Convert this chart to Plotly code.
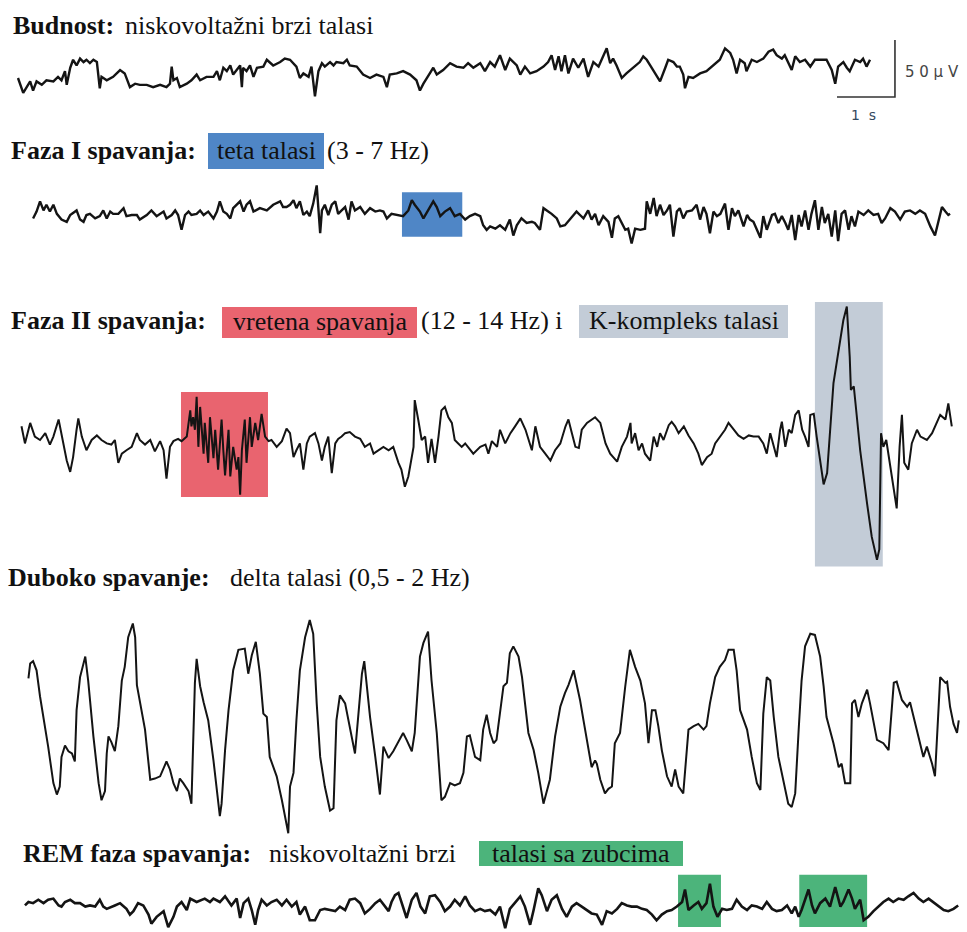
import plotly.graph_objects as go

# ---------------- DATA (time in s, amplitude in µV) ----------------
wake_eeg = [
    (0.00, 0), (0.09, -13), (0.21, -3), (0.26, -11), (0.32, -3), (0.41, -6), (0.49, -2), (0.61, -3),
    (0.69, 1), (0.75, -2), (0.81, 6), (0.84, -6), (0.90, 9), (0.95, 16), (1.01, 11), (1.07, 17),
    (1.13, 14), (1.18, 16), (1.24, 13), (1.30, 16), (1.36, 14), (1.41, -9), (1.44, 1), (1.53, -2),
    (1.64, 1), (1.76, 7), (1.84, 4), (1.93, -8), (2.02, -5), (2.10, -6), (2.22, -6), (2.33, -8),
    (2.45, -6), (2.56, -8), (2.62, -5), (2.65, 10), (2.68, -2), (2.74, 0), (2.79, -8), (2.91, -5),
    (2.99, -2), (3.08, 3), (3.14, -2), (3.25, 1), (3.37, 1), (3.43, 6), (3.48, -2), (3.54, 9),
    (3.60, 6), (3.66, 11), (3.71, 3), (3.77, 7), (3.83, 11), (3.86, -8), (3.88, 9), (3.94, 6),
    (4.00, 11), (4.06, 1), (4.12, 9), (4.23, 10), (4.29, 16), (4.40, 11), (4.52, 14), (4.60, 17),
    (4.69, 16), (4.80, 10), (4.86, 0), (4.92, 4), (5.01, 1), (5.06, 10), (5.12, -16), (5.18, 6),
    (5.24, 13), (5.29, 10), (5.38, 14), (5.44, 11), (5.49, 14), (5.61, 13), (5.67, 16), (5.72, 11),
    (5.84, 10), (5.95, 3), (6.07, 0), (6.18, 3), (6.30, 1), (6.36, -8), (6.41, 3), (6.53, 4),
    (6.64, 6), (6.76, 3), (6.87, -2), (6.93, -11), (6.99, -5), (7.10, 4), (7.16, 9), (7.22, 3),
    (7.33, 7), (7.45, 13), (7.56, 10), (7.68, 9), (7.76, 13), (7.85, 9),
    (7.97, 13), (8.05, 6), (8.14, 14), (8.22, 10), (8.31, 20), (8.40, 7), (8.48, 17), (8.60, 11),
    (8.66, 3), (8.74, 10), (8.83, 4), (8.94, 6), (9.06, 10), (9.14, 14), (9.20, 20), (9.26, 7),
    (9.32, 19), (9.37, 6), (9.43, 20), (9.49, 4), (9.57, 17), (9.66, 9), (9.75, 17), (9.83, 1),
    (9.92, 14), (10.01, 10), (10.09, 20), (10.15, 26), (10.21, 13), (10.26, 17), (10.32, 11),
    (10.41, 0), (10.49, 4), (10.61, 9), (10.72, 14), (10.78, 19), (10.84, 16), (10.90, 11),
    (10.95, 7), (11.01, 1), (11.07, -3), (11.16, 9), (11.21, 16), (11.30, 14), (11.36, 10),
    (11.41, 10), (11.47, 3), (11.50, -9), (11.56, 1), (11.64, 0), (11.76, 4), (11.87, 6),
    (11.99, 11), (12.10, 16), (12.19, 26), (12.28, 22), (12.33, 16), (12.39, 4), (12.45, 16),
    (12.53, 13), (12.56, 6), (12.65, 16), (12.74, 14), (12.85, 17), (12.94, 23), (13.02, 25),
    (13.08, 20), (13.17, 17), (13.22, 20), (13.28, 14), (13.34, 7), (13.40, 19), (13.48, 14),
    (13.57, 16), (13.66, 10), (13.74, 16), (13.83, 16), (13.94, 16), (14.03, 7), (14.09, -5),
    (14.14, 10), (14.23, 14), (14.29, 9), (14.34, 6), (14.43, 16), (14.52, 14), (14.57, 17),
    (14.63, 10), (14.69, 16),
]

stage1_eeg = [
    (0.26, -3), (0.32, 3), (0.38, 12), (0.44, 4), (0.49, 9), (0.55, 3), (0.61, 9), (0.67, 1),
    (0.75, -4), (0.84, -6), (0.90, 0), (1.01, 4), (1.07, -4), (1.13, -6), (1.18, 0), (1.24, 1),
    (1.33, -3), (1.41, -1), (1.47, 4), (1.53, -3), (1.59, 3), (1.64, 1), (1.73, 1), (1.82, 6),
    (1.87, -1), (1.96, 0), (2.05, 0), (2.10, -4), (2.22, 0), (2.30, 4), (2.39, -1), (2.45, 1),
    (2.51, 3), (2.56, -3), (2.65, 0), (2.71, 4), (2.76, 0), (2.82, -13), (2.88, 0), (2.94, 3),
    (2.99, 0), (3.08, 1), (3.14, 4), (3.20, 0), (3.28, 3), (3.37, -3), (3.43, 3), (3.48, 12),
    (3.54, 3), (3.60, 1), (3.66, -3), (3.71, 6), (3.77, 9), (3.83, 12), (3.89, 3), (3.94, 9),
    (4.00, 12), (4.06, 3), (4.17, 6), (4.29, 4), (4.40, 9), (4.52, 12), (4.57, 7), (4.63, 7),
    (4.69, 9), (4.75, 13), (4.80, 6), (4.86, 12), (4.92, 0), (4.98, 3), (5.03, -1), (5.09, 10),
    (5.15, 26), (5.18, 4), (5.21, -16), (5.24, 4), (5.29, 9), (5.35, 0), (5.41, 9), (5.47, 12),
    (5.52, 1), (5.58, 4), (5.64, 7), (5.70, -4), (5.75, 12), (5.81, 4), (5.90, 7), (5.98, 1),
    (6.07, 6), (6.16, 3), (6.24, 4), (6.30, 3), (6.36, -3), (6.44, 1), (6.56, 0), (6.64, -1),
    (6.73, 4), (6.79, 13), (6.84, 9), (6.93, 3), (6.99, -3), (7.07, 4), (7.16, 12), (7.22, 7),
    (7.28, -1), (7.36, 3), (7.45, 6), (7.53, -1), (7.62, 1), (7.71, -4), (7.79, -1), (7.88, 1),
    (7.97, -1), (8.02, -9), (8.08, -13), (8.14, -10), (8.23, -12), (8.31, -9), (8.40, -13),
    (8.48, -4), (8.54, -18), (8.60, -9), (8.68, -3), (8.77, -7), (8.86, -6), (8.91, -7),
    (9.00, -13), (9.06, 6), (9.12, 4), (9.20, 1), (9.29, -3), (9.35, -10), (9.43, -9), (9.52, -4),
    (9.63, 3), (9.69, 0), (9.75, -3), (9.83, 4), (9.89, -4), (9.95, 1), (10.01, -9), (10.09, -1),
    (10.18, -6), (10.24, -20), (10.29, -3), (10.35, -1), (10.41, -7), (10.47, -13), (10.52, -12),
    (10.58, -25), (10.64, -12), (10.73, -13), (10.81, -12), (10.84, 12), (10.90, 1), (10.96, 15),
    (11.01, -1), (11.07, 9), (11.13, 0), (11.19, 4), (11.24, 9), (11.30, -19), (11.36, 3),
    (11.41, 6), (11.47, -3), (11.53, 3), (11.62, 4), (11.70, 9), (11.76, -4), (11.82, 7),
    (11.87, 1), (11.93, -16), (11.99, 3), (12.05, -1), (12.11, 1), (12.19, 10), (12.25, -13),
    (12.31, 6), (12.36, -1), (12.42, 4), (12.51, -10), (12.57, 0), (12.62, -4), (12.68, -6),
    (12.74, -13), (12.80, -20), (12.85, -1), (12.91, -13), (13.00, 0), (13.05, 1), (13.11, -7),
    (13.17, -1), (13.23, -7), (13.28, -13), (13.34, 0), (13.40, -22), (13.46, 0), (13.51, -10),
    (13.57, 4), (13.63, -13), (13.68, 1), (13.74, 13), (13.80, -13), (13.86, 7), (13.91, -7),
    (13.97, 1), (14.03, -19), (14.09, 4), (14.14, -23), (14.20, 1), (14.26, 4), (14.32, -13),
    (14.37, -1), (14.43, -10), (14.49, 3), (14.58, 0), (14.66, 4), (14.75, 0), (14.83, 1),
    (14.89, -7), (14.95, -3), (15.04, 6), (15.12, 3), (15.21, -4), (15.29, 3), (15.38, 4),
    (15.47, 1), (15.55, 4), (15.64, 1), (15.73, -10), (15.81, -18), (15.87, -6), (15.93, 7),
    (15.99, 3), (16.04, 0), (16.07, 1),
]

stage2_eeg = [
    (0.06, 12), (0.12, -3), (0.21, 15), (0.29, 3), (0.38, 0), (0.47, 6), (0.55, -4), (0.61, 3),
    (0.70, 18), (0.75, 6), (0.84, -18), (0.90, -28), (0.95, -15), (1.01, 9), (1.04, 19), (1.10, 3),
    (1.18, -9), (1.27, 0), (1.36, 4), (1.44, 0), (1.53, -3), (1.61, -4), (1.67, 0), (1.73, -20),
    (1.79, -12), (1.87, -9), (1.96, -6), (2.05, 6), (2.10, 0), (2.19, -4), (2.28, 0), (2.36, -10),
    (2.45, -1), (2.51, -9), (2.56, -34), (2.62, -6), (2.68, -1), (2.76, 1), (2.82, -1), (2.91, 3),
    (2.97, 26), (2.99, 12), (3.02, 20), (3.05, 9), (3.08, 38), (3.11, -6), (3.14, 29), (3.20, -12),
    (3.22, 15), (3.28, -20), (3.31, 20), (3.37, -16), (3.40, 9), (3.45, -26), (3.51, 18), (3.54, -9),
    (3.57, -31), (3.63, 9), (3.66, -32), (3.71, -6), (3.77, -26), (3.80, -15), (3.83, -48),
    (3.86, -9), (3.91, 18), (3.94, -20), (4.00, 20), (4.03, -6), (4.09, 15), (4.14, 0), (4.20, 23),
    (4.26, 3), (4.32, -1), (4.37, 0), (4.46, -6), (4.55, -1), (4.63, 10), (4.69, 6), (4.75, -15),
    (4.80, -9), (4.86, -3), (4.92, -26), (4.98, -3), (5.03, 3), (5.12, 6), (5.18, -3), (5.24, -18),
    (5.29, -6), (5.35, 3), (5.41, -29), (5.47, -3), (5.52, 1), (5.58, 3), (5.64, 6), (5.72, 7),
    (5.81, 3), (5.90, 1), (5.98, -6), (6.07, -3), (6.13, -12), (6.21, -9), (6.30, -6), (6.39, -9),
    (6.47, -6), (6.56, -20), (6.61, -26), (6.67, -41), (6.73, -32), (6.82, -6), (6.84, 35),
    (6.90, 18), (6.96, 0), (7.02, 3), (7.07, -20), (7.13, 1), (7.19, -20), (7.25, 3), (7.30, 26),
    (7.36, 29), (7.42, 20), (7.48, 15), (7.53, 0), (7.59, -3), (7.65, -6), (7.71, -3), (7.76, -6),
    (7.85, -12), (7.97, -6),
    (8.06, -4), (8.11, -12), (8.17, -1), (8.26, -6), (8.31, 9), (8.40, -3), (8.49, 6), (8.57, 12),
    (8.66, 19), (8.75, 9), (8.80, 1), (8.86, -9), (8.92, 12), (9.00, -6), (9.09, -12), (9.18, -18),
    (9.26, -9), (9.35, -3), (9.44, 12), (9.49, 18), (9.55, 6), (9.61, -6), (9.67, -7), (9.72, 9),
    (9.81, 15), (9.95, 20), (10.04, 15), (10.13, -3), (10.21, -12), (10.33, -19), (10.41, -6),
    (10.50, 3), (10.56, 15), (10.58, -3), (10.64, 6), (10.70, -9), (10.76, -3), (10.81, -12),
    (10.90, -18), (10.96, 3), (11.02, -6), (11.07, 6), (11.13, 0), (11.22, 13), (11.27, 16),
    (11.33, 12), (11.39, 6), (11.48, 12), (11.56, 4), (11.65, -3), (11.73, -12), (11.79, -22),
    (11.88, -15), (11.96, -12), (12.02, -3), (12.11, 3), (12.19, 9), (12.25, 15), (12.34, 9),
    (12.42, 4), (12.51, 1), (12.60, 4), (12.68, 3), (12.77, 3), (12.85, -3), (12.91, -12),
    (12.97, 6), (13.03, -6), (13.08, -15), (13.14, 9), (13.17, 16), (13.23, -6), (13.29, 9),
    (13.34, 6), (13.40, 22), (13.46, 26), (13.52, 9), (13.57, 3), (13.63, -6), (13.66, 22),
    (13.72, 23), (13.77, 3), (13.83, -20), (13.89, -39), (13.95, -29), (14.00, 9), (14.06, 50),
    (14.15, 79), (14.23, 105), (14.29, 117), (14.34, 73), (14.36, 44), (14.41, 47), (14.44, 32),
    (14.52, -9), (14.64, -56), (14.72, -85), (14.81, -105), (14.85, -96), (14.88, 6), (14.92, -6),
    (14.97, 0), (15.03, -20), (15.08, -41), (15.15, -60), (15.20, -6), (15.24, 22), (15.28, -20),
    (15.35, -26), (15.41, -3), (15.50, 9), (15.56, 3), (15.67, 0), (15.76, 6), (15.84, 15),
    (15.90, 22), (15.99, 18), (16.04, 32), (16.10, 12),
]

deep_eeg = [
    (0.18, 41), (0.21, 54), (0.26, 56), (0.32, 48), (0.38, 25), (0.44, 7), (0.52, -19), (0.61, -51),
    (0.67, -61), (0.72, -54), (0.75, -28), (0.81, -18), (0.87, -23), (0.93, -25), (0.98, -32),
    (1.01, 13), (1.07, 42), (1.16, 60), (1.21, 39), (1.30, -10), (1.39, -51), (1.44, -66),
    (1.50, -58), (1.53, -25), (1.56, -10), (1.61, -15), (1.67, -23), (1.73, -1), (1.79, 39),
    (1.84, 51), (1.90, 77), (1.98, 89), (2.02, 77), (2.05, 35), (2.10, 22), (2.19, -4), (2.28, -48),
    (2.36, -47), (2.45, -45), (2.51, -37), (2.56, -32), (2.62, -39), (2.68, -51), (2.74, -58),
    (2.79, -47), (2.85, -51), (2.94, -58), (2.99, -69), (3.02, -22), (3.05, 37), (3.08, 58),
    (3.14, 34), (3.20, 20), (3.28, 4), (3.37, -31), (3.43, -57), (3.48, -80), (3.51, -69),
    (3.57, -22), (3.63, 13), (3.71, 48), (3.80, 66), (3.91, 67), (3.97, 45), (4.03, 61), (4.10, 73),
    (4.17, 45), (4.23, 10), (4.29, 7), (4.34, -28), (4.46, -45), (4.55, -66), (4.60, -80),
    (4.66, -95), (4.69, -54), (4.75, -42), (4.80, 4), (4.86, 48), (4.95, 77), (5.03, 92), (5.09, 80),
    (5.15, 19), (5.21, -28), (5.29, -54), (5.38, -75), (5.44, -73), (5.49, 4), (5.55, 26),
    (5.64, 19), (5.72, -3), (5.81, -25), (5.87, 10), (5.93, 45), (5.97, 56), (6.01, 37), (6.07, 7),
    (6.16, -28), (6.24, -61), (6.30, -19), (6.39, -29), (6.47, -23), (6.56, -15), (6.64, -7),
    (6.70, -13), (6.79, -23), (6.84, -7), (6.93, 60), (6.99, 72), (7.07, 82), (7.13, 39),
    (7.22, -7), (7.30, -66), (7.36, -63), (7.45, -51), (7.53, -53), (7.62, -51), (7.68, -42),
    (7.74, -10), (7.79, -9), (7.88, -28), (7.97, -31),
    (8.02, -4), (8.08, 9), (8.14, -7), (8.20, -16), (8.25, -13), (8.31, 13), (8.37, 34), (8.43, 37),
    (8.48, 63), (8.54, 69), (8.63, 60), (8.69, 42), (8.74, 19), (8.80, -7), (8.89, -22), (8.97, -42),
    (9.06, -69), (9.12, -57), (9.17, -48), (9.26, -10), (9.35, 16), (9.43, 28), (9.49, 35),
    (9.58, 48), (9.63, 37), (9.69, 22), (9.75, 4), (9.81, -13), (9.89, -37), (9.95, -31),
    (9.98, -34), (10.04, -48), (10.12, -60), (10.18, -56), (10.24, -54), (10.29, -16), (10.38, -7),
    (10.47, 34), (10.55, 66), (10.64, 51), (10.73, 39), (10.81, 19), (10.87, -16), (10.93, 13),
    (10.99, 13), (11.04, -1), (11.10, -22), (11.19, -45), (11.27, -54), (11.33, -39), (11.39, -54),
    (11.47, -60), (11.56, -4), (11.65, -1), (11.73, 1), (11.82, -4), (11.87, -1), (11.93, 19),
    (12.02, 42), (12.10, 51), (12.19, 57), (12.25, 66), (12.34, 66), (12.39, 48), (12.45, 13),
    (12.57, -4), (12.65, -28), (12.74, -51), (12.80, -57), (12.85, 10), (12.91, 42), (12.97, 39),
    (13.03, 7), (13.11, -28), (13.20, -51), (13.28, -69), (13.34, -72), (13.40, -60), (13.46, -4),
    (13.51, 39), (13.57, 69), (13.66, 80), (13.74, 79), (13.83, 60), (13.89, 34), (13.94, 7),
    (14.06, -16), (14.15, -37), (14.20, -34), (14.26, -51), (14.35, -51), (14.38, 19), (14.43, 22),
    (14.49, 7), (14.55, 19), (14.64, 31), (14.69, 19), (14.75, 4), (14.81, -13), (14.92, -16),
    (15.01, -22), (15.10, 37), (15.15, 38), (15.24, 22), (15.33, 16), (15.38, 20), (15.44, 7),
    (15.53, -13), (15.61, -28), (15.67, -19), (15.76, -34), (15.81, -45), (15.87, 19), (15.90, 42),
    (15.99, 37), (16.02, 38), (16.07, 16), (16.13, 1), (16.19, -7), (16.22, 4),
]

rem_eeg = [
    (0.12, 4), (0.18, 7), (0.26, 6), (0.35, 9), (0.44, 6), (0.52, 9), (0.61, 10), (0.70, 4),
    (0.75, 3), (0.81, 7), (0.90, 9), (0.98, 6), (1.07, 6), (1.16, 3), (1.24, 4), (1.33, 3),
    (1.41, 9), (1.47, 3), (1.53, 1), (1.61, 3), (1.67, 4), (1.76, 6), (1.87, 1), (1.93, -4),
    (1.99, -1), (2.07, 6), (2.16, 4), (2.25, -4), (2.30, -12), (2.39, -6), (2.51, -1), (2.59, -15),
    (2.68, -6), (2.74, 3), (2.82, 7), (2.91, 0), (2.97, 10), (3.08, 7), (3.17, 9), (3.22, 10),
    (3.31, 7), (3.37, 10), (3.48, 7), (3.57, 12), (3.68, 4), (3.77, 10), (3.83, -7), (3.89, 6),
    (3.97, 10), (4.03, 0), (4.09, -13), (4.14, 0), (4.20, 9), (4.29, 4), (4.37, 7), (4.46, 9),
    (4.55, 4), (4.63, 9), (4.72, 3), (4.80, 7), (4.86, -4), (4.95, 3), (5.03, -9), (5.12, -9),
    (5.21, 0), (5.29, 1), (5.38, 0), (5.47, -1), (5.55, 3), (5.64, 0), (5.72, 9), (5.81, 10),
    (5.90, 6), (5.98, -3), (6.07, 1), (6.16, 6), (6.24, 9), (6.33, 3), (6.39, -1), (6.44, 7),
    (6.50, 13), (6.56, 15), (6.64, 3), (6.70, -7), (6.79, 9), (6.87, 15), (6.94, 3), (7.02, -3),
    (7.10, 12), (7.19, 13), (7.28, 7), (7.36, -1), (7.45, 3), (7.53, 9), (7.62, 4), (7.71, 12),
    (7.79, 4), (7.88, -1), (7.97, 1),
    (8.05, -1), (8.14, 0), (8.23, -4), (8.31, 3), (8.40, -16), (8.48, 1), (8.57, 7), (8.66, 12),
    (8.74, 3), (8.83, -13), (8.89, 0), (8.97, 19), (9.03, 13), (9.12, -1), (9.20, 9), (9.29, 13),
    (9.38, 1), (9.46, -6), (9.55, 3), (9.63, 6), (9.72, 3), (9.81, 0), (9.89, -3), (9.98, -4),
    (10.07, -13), (10.15, -1), (10.24, -3), (10.33, 1), (10.41, 6), (10.50, 4), (10.58, 3),
    (10.67, 3), (10.76, 1), (10.84, 0), (10.93, -4), (11.01, -9), (11.10, -4), (11.19, -1),
    (11.27, 0), (11.36, 3), (11.45, 7), (11.50, 18), (11.56, 0), (11.65, 4), (11.73, 7), (11.79, 1),
    (11.87, 6), (11.93, 23), (11.99, 3), (12.06, -6), (12.14, 1), (12.22, 0), (12.31, 1), (12.39, 9),
    (12.48, 3), (12.57, 0), (12.65, 4), (12.74, 3), (12.83, 1), (12.91, 7), (13.00, 1), (13.08, -1),
    (13.17, 0), (13.26, 4), (13.34, -3), (13.40, 3), (13.46, -6), (13.51, 0), (13.57, 9),
    (13.63, 18), (13.69, 4), (13.74, -3), (13.83, 6), (13.92, 10), (14.00, 3), (14.09, 20),
    (14.18, 3), (14.23, 7), (14.32, 18), (14.38, 10), (14.43, 1), (14.52, 9), (14.58, -9),
    (14.66, -6), (14.75, -1), (14.84, 3), (14.92, 7), (15.01, 10), (15.09, 7), (15.18, 10),
    (15.27, 9), (15.35, 12), (15.44, 15), (15.53, 10), (15.61, 7), (15.70, 10), (15.78, 7),
    (15.87, 3), (15.96, 0), (16.04, -1), (16.13, 1), (16.21, 4),
]

# highlighted episodes: (start s, end s, low µV, high µV)
theta_window = (6.62, 7.66, -19, 20)
spindle_window = (2.81, 4.31, -50, 42)
kcomplex_window = (13.74, 14.91, -111, 121)
sawtooth_windows = [(11.38, 12.12, -15, 31), (13.47, 14.64, -15, 31)]

scale_bar_seconds = 1.0
scale_bar_microvolts = 50.0

# ---------------- LAYOUT GEOMETRY ----------------
W, H = 967, 932
PX_PER_S = 58.0
PX_PER_UV = 1.14
X0_PX = 18.0

# (baseline px, top px, bottom px)
rows = [(78, 36, 130), (215, 178, 250), (440, 295, 575), (725, 595, 845), (910, 866, 932)]
line_widths = [2.4, 2.4, 2.0, 2.0, 2.6]

BLUE = "#4f86c6"
RED = "#e9646f"
GRAY = "#c3ccd7"
GREEN = "#4cb47b"
INK = "#141414"

fig = go.Figure()
series = [wake_eeg, stage1_eeg, stage2_eeg, deep_eeg, rem_eeg]
for i, s in enumerate(series):
    t = [p[0] for p in s]
    v = [p[1] for p in s]
    fig.add_trace(go.Scatter(x=t, y=v, mode="lines", xaxis="x",
                             yaxis="y" if i == 0 else f"y{i+1}",
                             line=dict(color=INK, width=line_widths[i]), hoverinfo="skip",
                             showlegend=False))

layout = dict(
    width=W, height=H, margin=dict(l=0, r=0, t=0, b=0),
    paper_bgcolor="white", plot_bgcolor="white", showlegend=False,
    xaxis=dict(domain=[0, 1], range=[-X0_PX / PX_PER_S, (W - X0_PX) / PX_PER_S],
               visible=False, anchor="y", fixedrange=True),
)
for i, (b, top, bot) in enumerate(rows):
    key = "yaxis" if i == 0 else f"yaxis{i+1}"
    layout[key] = dict(domain=[1 - bot / H, 1 - top / H],
                       range=[(b - bot) / PX_PER_UV, (b - top) / PX_PER_UV],
                       visible=False, anchor="x", fixedrange=True)
fig.update_layout(**layout)

# scale bar on the first row
sb_t0 = 14.12
sb_v0 = -16.7
fig.add_trace(go.Scatter(
    x=[sb_t0, sb_t0 + scale_bar_seconds, sb_t0 + scale_bar_seconds],
    y=[sb_v0, sb_v0, sb_v0 + scale_bar_microvolts],
    mode="lines", line=dict(color="#333333", width=1.6), xaxis="x", yaxis="y",
    hoverinfo="skip", showlegend=False))
fig.add_annotation(x=sb_t0 + scale_bar_seconds + 0.14, y=sb_v0 + 22, xref="x", yref="y",
                   text="5 0 µ V", showarrow=False, xanchor="left", yanchor="middle",
                   font=dict(family="DejaVu Sans", size=15, color="#444444"))
fig.add_annotation(x=sb_t0 + 0.45, y=sb_v0 - 16, xref="x", yref="y",
                   text="1  s", showarrow=False, xanchor="center", yanchor="middle",
                   font=dict(family="DejaVu Sans", size=14, color="#34495e"))


def rect(win, yref, color):
    t0, t1, v0, v1 = win
    fig.add_shape(type="rect", xref="x", yref=yref, x0=t0, x1=t1, y0=v0, y1=v1,
                  fillcolor=color, line=dict(width=0), layer="below")


rect(theta_window, "y2", BLUE)
rect(spindle_window, "y3", RED)
rect(kcomplex_window, "y3", GRAY)
for w in sawtooth_windows:
    rect(w, "y5", GREEN)

FONT = "Liberation Serif"
FS = 26


def label(text, xpx, ypx, anchor="left"):
    fig.add_annotation(x=xpx / W, y=1 - ypx / H, xref="paper", yref="paper", text=text,
                       showarrow=False, xanchor=anchor, yanchor="middle",
                       font=dict(family=FONT, size=FS, color="#111111"), borderpad=0)


# title highlight boxes (pixel boxes -> paper) with centred text
def hbox(text, x0, x1, y0, y1, color, ymid):
    fig.add_shape(type="rect", xref="paper", yref="paper", x0=x0 / W, x1=x1 / W,
                  y0=1 - y1 / H, y1=1 - y0 / H, fillcolor=color, line=dict(width=0),
                  layer="below")
    label(text, (x0 + x1) / 2, ymid, anchor="center")


label("<b>Budnost:</b>", 12, 25)
label("niskovoltažni brzi talasi", 124, 25)
label("<b>Faza I spavanja:</b>", 10, 150)
hbox("teta talasi", 208, 324, 133, 169, BLUE, 150)
label("(3 - 7 Hz)", 326, 150)
label("<b>Faza II spavanja:</b>", 10, 320)
hbox("vretena spavanja", 222, 417, 307, 338, RED, 321)
label("(12 - 14 Hz) i", 420, 320)
hbox("K-kompleks talasi", 579, 788, 305, 338, GRAY, 320)
label("<b>Duboko spavanje:</b>", 7, 577)
label("delta talasi (0,5 - 2 Hz)", 229, 577)
label("<b>REM faza spavanja:</b>", 22, 853)
label("niskovoltažni brzi", 268, 853)
hbox("talasi sa zubcima", 479, 683, 841, 866, GREEN, 853)

fig.write_html("out.html")
